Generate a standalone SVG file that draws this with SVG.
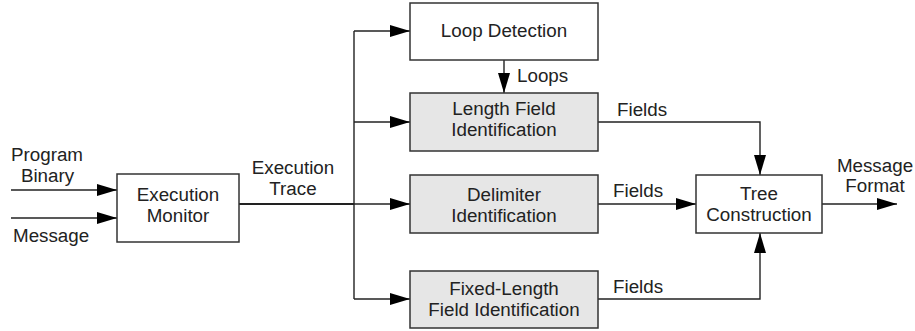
<svg xmlns="http://www.w3.org/2000/svg" width="915" height="331" viewBox="0 0 915 331">
<defs>
<marker id="ah" markerUnits="userSpaceOnUse" markerWidth="20" markerHeight="12" refX="20" refY="6" orient="auto" viewBox="0 0 20 12">
<path d="M0,0 L20,6 L0,12 z" fill="#000"/>
</marker>
<style>
.box{fill:#fff;stroke:#333;stroke-width:1.5}
.sh{fill:#e6e6e6;stroke:#333;stroke-width:1.5}
.c{fill:none;stroke:#222;stroke-width:1.4}
.t{font-family:"Liberation Sans",Arial,sans-serif;font-size:18.8px;fill:#222}
.m{text-anchor:middle}
</style>
</defs>
<rect width="915" height="331" fill="#fff"/>
<g id="connectors">
<line class="c" x1="11" y1="190" x2="117" y2="190" marker-end="url(#ah)"/>
<line class="c" x1="11" y1="218" x2="117" y2="218" marker-end="url(#ah)"/>
<line class="c" x1="239" y1="204" x2="354" y2="204" style="stroke-width:2.2"/>
<line class="c" x1="354" y1="31" x2="354" y2="299"/>
<line class="c" x1="354" y1="31" x2="410" y2="31" marker-end="url(#ah)"/>
<line class="c" x1="354" y1="122" x2="410" y2="122" marker-end="url(#ah)"/>
<line class="c" x1="354" y1="204" x2="410" y2="204" marker-end="url(#ah)"/>
<line class="c" x1="354" y1="299" x2="410" y2="299" marker-end="url(#ah)"/>
<line class="c" x1="504" y1="60" x2="504" y2="93" marker-end="url(#ah)"/>
<polyline class="c" points="598,122 760,122 760,175" marker-end="url(#ah)"/>
<line class="c" x1="598" y1="204" x2="696" y2="204" marker-end="url(#ah)"/>
<polyline class="c" points="598,299 760,299 760,233" marker-end="url(#ah)"/>
<line class="c" x1="822" y1="204" x2="897" y2="204" marker-end="url(#ah)"/>
<text class="t m" x="47" y="161">Program</text>
<text class="t m" x="47.5" y="182">Binary</text>
<text class="t" x="13" y="242">Message</text>
<text class="t m" x="293" y="174">Execution</text>
<text class="t m" x="293" y="195">Trace</text>
<text class="t" x="517" y="82">Loops</text>
<text class="t" x="617" y="116">Fields</text>
<text class="t" x="613" y="197">Fields</text>
<text class="t" x="613" y="293">Fields</text>
<text class="t m" x="875" y="172">Message</text>
<text class="t m" x="875" y="192">Format</text>
</g>
<g id="monitor">
<rect class="box" x="117" y="174" width="122" height="68"/>
<text class="t m" x="178" y="201">Execution</text>
<text class="t m" x="178" y="222">Monitor</text>
</g>
<g id="loop">
<rect class="box" x="410" y="3" width="188" height="57"/>
<text class="t m" x="504" y="37">Loop Detection</text>
</g>
<g id="length">
<rect class="sh" x="410" y="93" width="188" height="58"/>
<text class="t m" x="504" y="115">Length Field</text>
<text class="t m" x="504" y="136">Identification</text>
</g>
<g id="delim">
<rect class="sh" x="410" y="175" width="188" height="58"/>
<text class="t m" x="504" y="201">Delimiter</text>
<text class="t m" x="504" y="222">Identification</text>
</g>
<g id="fixed">
<rect class="sh" x="410" y="271" width="188" height="57"/>
<text class="t m" x="504" y="295">Fixed-Length</text>
<text class="t m" x="504" y="316">Field Identification</text>
</g>
<g id="tree">
<rect class="box" x="696" y="175" width="126" height="58"/>
<text class="t m" x="759" y="200">Tree</text>
<text class="t m" x="759" y="221">Construction</text>
</g>
</svg>
